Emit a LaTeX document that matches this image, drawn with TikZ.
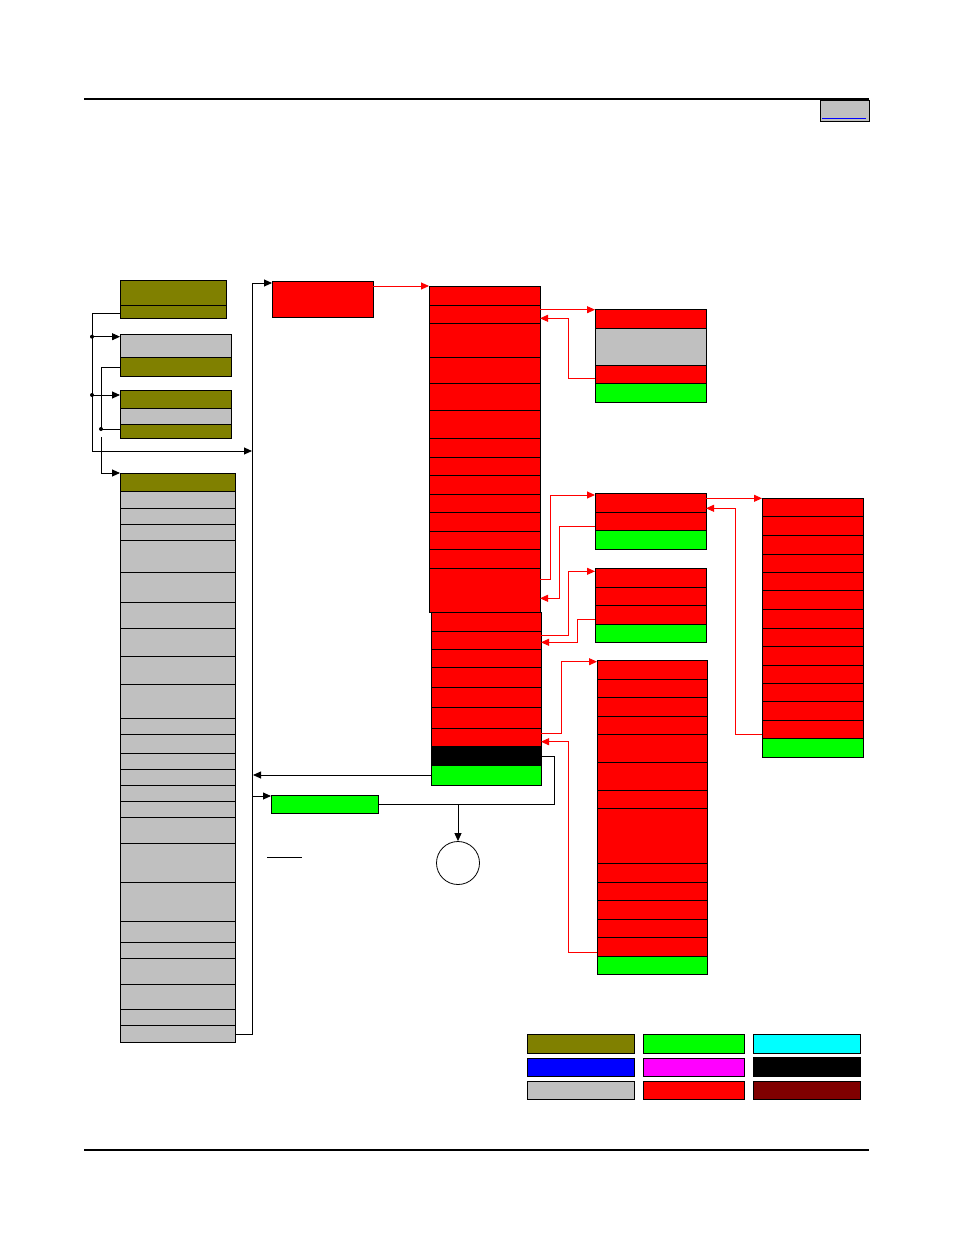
\documentclass[tikz,border=0pt]{standalone}
\usetikzlibrary{arrows.meta}
\definecolor{olv}{HTML}{808000}
\definecolor{lgr}{HTML}{C0C0C0}
\definecolor{rd}{HTML}{FF0000}
\definecolor{gn}{HTML}{00FF00}
\definecolor{cy}{HTML}{00FFFF}
\definecolor{bl}{HTML}{0000FF}
\definecolor{mg}{HTML}{FF00FF}
\definecolor{mr}{HTML}{800000}
\definecolor{lk}{HTML}{0000FF}
\tikzset{
  box/.style={draw=black,line width=0.95pt},
  conn/.style={draw=black,line width=0.9pt},
  rconn/.style={draw=rd,line width=0.9pt},
  tip/.style={-{Triangle[length=8pt,width=7pt]}},
  dotc/.style={fill=black,circle,inner sep=0pt,minimum size=4pt}
}
\begin{document}
\begin{tikzpicture}[x=1pt,y=-1pt]
\useasboundingbox (0,0) rectangle (954,1235);
% header / footer
\draw[line width=2pt] (84,99) -- (869,99);
\draw[box,fill=lgr] (820,100) rectangle (869,121);
\draw[lk,line width=1pt] (822,118) -- (866,118);
\draw[line width=1.5pt] (84,1150) -- (869,1150);

% left olive/gray boxes
\foreach \a/\b/\c in {280/305/olv,305/318/olv} \draw[box,fill=\c] (120,\a) rectangle (226,\b);
\foreach \a/\b/\c in {334/357/lgr,357/376/olv} \draw[box,fill=\c] (120,\a) rectangle (231,\b);
\foreach \a/\b/\c in {390/408/olv,408/424/lgr,424/438/olv} \draw[box,fill=\c] (120,\a) rectangle (231,\b);

% tall gray column
\draw[box,fill=olv] (120,473) rectangle (235,491);
\foreach \a/\b in {491/508,508/524,524/540,540/572,572/602,602/628,628/656,656/684,684/718,718/734,734/753,753/769,769/785,785/801,801/817,817/843,843/882,882/921,921/942,942/958,958/984,984/1009,1009/1025,1025/1042}
  \draw[box,fill=lgr] (120,\a) rectangle (235,\b);

% red box top
\draw[box,fill=rd] (272,281) rectangle (373,317);
% green box lower
\draw[box,fill=gn] (271,795) rectangle (378,813);

% main red column upper
\foreach \a/\b in {286/305,305/323,323/357,357/383,383/410,410/438,438/457,457/475,475/494,494/512,512/531,531/549,549/568,568/612}
  \draw[box,fill=rd] (429,\a) rectangle (540,\b);
% lower
\foreach \a/\b/\c in {612/631/rd,631/649/rd,649/667/rd,667/687/rd,687/707/rd,707/728/rd,728/746/rd,746/765/black,765/785/gn}
  \draw[box,fill=\c] (431,\a) rectangle (541,\b);

% box A
\foreach \a/\b/\c in {309/328/rd,328/365/lgr,365/383/rd,383/402/gn}
  \draw[box,fill=\c] (595,\a) rectangle (706,\b);
% box B
\foreach \a/\b/\c in {493/512/rd,512/530/rd,530/549/gn}
  \draw[box,fill=\c] (595,\a) rectangle (706,\b);
% box C
\foreach \a/\b/\c in {568/587/rd,587/605/rd,605/624/rd,624/642/gn}
  \draw[box,fill=\c] (595,\a) rectangle (706,\b);
% box D
\foreach \a/\b/\c in {498/516/rd,516/535/rd,535/554/rd,554/572/rd,572/590/rd,590/609/rd,609/628/rd,628/646/rd,646/665/rd,665/683/rd,683/701/rd,701/720/rd,720/738/rd,738/757/gn}
  \draw[box,fill=\c] (762,\a) rectangle (863,\b);
% box E
\foreach \a/\b/\c in {660/679/rd,679/697/rd,697/716/rd,716/734/rd,734/762/rd,762/790/rd,790/808/rd,808/863/rd,863/882/rd,882/900/rd,900/919/rd,919/937/rd,937/956/rd,956/974/gn}
  \draw[box,fill=\c] (597,\a) rectangle (707,\b);

% circle
\node[draw=black,line width=0.8pt,circle,minimum size=43pt,inner sep=0pt] (term) at (458,863) {};
% small line
\draw[line width=1pt] (267,857) -- (302,857);

% legend
\foreach \x/\X/\y/\Y/\c in {527/634/1034/1053/olv,643/744/1034/1053/gn,753/860/1034/1053/cy,
  527/634/1058/1076/bl,643/744/1058/1076/mg,753/860/1057/1076/black,
  527/634/1081/1099/lgr,643/744/1081/1099/rd,753/860/1081/1099/mr}
  \draw[box,fill=\c] (\x,\y) rectangle (\X,\Y);

% ---- black connectors (left)
\coordinate (b1) at (120,313);
\coordinate (b2) at (120,367);
\coordinate (b3) at (120,429);
\coordinate (d1) at (92,336.7);
\coordinate (d2) at (92,395);
\coordinate (d3) at (101,429);
\coordinate (v1) at (252,451);
\draw[conn,tip] (b1) -- (92,313) -- (92,451) -- (v1);
\draw[conn,tip] (d1) -- (120,336.7);
\draw[conn,tip] (d2) -- (120,395);
\node[dotc] at (d1) {};
\node[dotc] at (d2) {};
\draw[conn] (b2) -- (101,367) -- (d3) -- (b3);
\node[dotc] at (d3) {};
\draw[conn,tip] (101,437) -- (101,473) -- (120,473);

% gray column to red box
\coordinate (gc) at (235,1034);
\coordinate (rb) at (272,283);
\draw[conn,tip] (gc) -- (252,1034) -- (252,283) -- (rb);
% green row -> vertical
\draw[conn,tip] (431,775) -- (253,775);
\draw[conn,tip] (252,796) -- (271,796);
% black row -> green box
\draw[conn] (541,756) -- (554,756) -- (554,804) -- (378,804);
\draw[conn,tip] (458,804) -- (term.north);

% ---- red connectors
\draw[rconn,tip] (373,286) -- (429,286);
\draw[rconn,tip] (540,309.7) -- (595,309.7);
\draw[rconn,tip] (595,378.3) -- (568.3,378.3) -- (568.3,318.3) -- (540,318.3);
\draw[rconn,tip] (540,579.3) -- (550.7,579.3) -- (550.7,495) -- (595,495);
\draw[rconn,tip] (595,526.3) -- (559.7,526.3) -- (559.7,598.3) -- (540,598.3);
\draw[rconn,tip] (541,635) -- (568.3,635) -- (568.3,571.3) -- (595,571.3);
\draw[rconn,tip] (595,619.3) -- (577.7,619.3) -- (577.7,642.3) -- (541,642.3);
\draw[rconn,tip] (706,498.3) -- (762,498.3);
\draw[rconn,tip] (762,734.3) -- (735.7,734.3) -- (735.7,508.3) -- (706,508.3);
\draw[rconn,tip] (541,733) -- (561.3,733) -- (561.3,661.7) -- (597,661.7);
\draw[rconn,tip] (597,952.3) -- (568.3,952.3) -- (568.3,741.7) -- (541,741.7);
\end{tikzpicture}
\end{document}
